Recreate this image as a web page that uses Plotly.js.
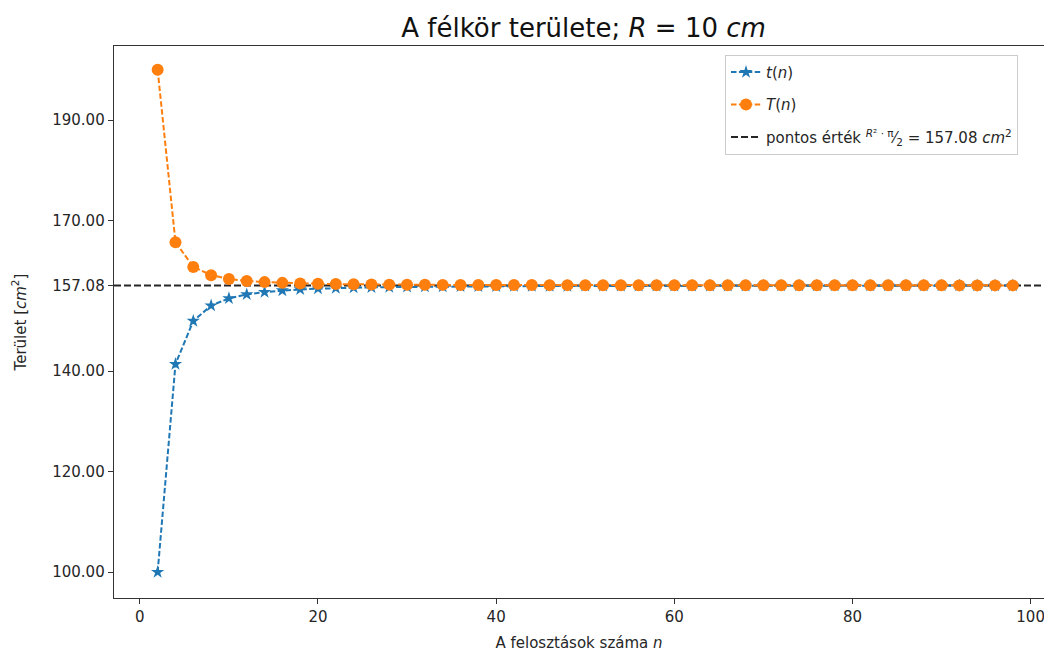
<!DOCTYPE html>
<html>
<head>
<meta charset="utf-8">
<script src="https://cdn.plot.ly/plotly-3.0.1.min.js"></script>
<style>html,body{margin:0;padding:0;background:#fff;}#chart{width:1044px;height:652px;}</style>
</head>
<body>
<div id="chart"></div>
<script>
// Number of subdivisions
const nValues = [2,4,6,8,10,12,14,16,18,20,22,24,26,28,30,32,34,36,38,40,42,44,46,48,50,
  52,54,56,58,60,62,64,66,68,70,72,74,76,78,80,82,84,86,88,90,92,94,96,98];
// inscribed approximation t(n)
const tValues = [100.00,141.42,150.00,153.07,154.51,155.29,155.76,156.07,156.28,156.43,156.55,156.63,156.70,156.75,156.79,
  156.83,156.86,156.88,156.90,156.92,156.93,156.95,156.96,156.97,156.98,156.98,156.99,157.00,157.00,157.01,157.01,157.02,157.02,157.02,
  157.03,157.03,157.03,157.04,157.04,157.04,157.04,157.04,157.05,157.05,157.05,157.05,157.05,157.05,157.06];
// circumscribed approximation T(n)
const TValues = [200.00,165.69,160.77,159.13,158.38,157.98,157.74,157.59,157.48,157.40,157.35,157.30,157.27,157.24,157.22,
  157.21,157.19,157.18,157.17,157.16,157.15,157.15,157.14,157.14,157.13,157.13,157.12,157.12,157.12,157.12,157.11,157.11,157.11,157.11,
  157.11,157.10,157.10,157.10,157.10,157.10,157.10,157.10,157.10,157.10,157.10,157.09,157.09,157.09,157.09];
const exactValue = 157.08;
const yTickVals = [100, 120, 140, 157.08, 170, 190];
const yTickText = ["100.00", "120.00", "140.00", "157.08", "170.00", "190.00"];
const xTickVals = [0, 20, 40, 60, 80, 100];

const FONT = "DejaVu Sans, sans-serif";
const traces = [
  {x: nValues, y: tValues, name: "<i>t</i>(<i>n</i>)", legendgroup: "a", mode: "lines+markers", type: "scatter",
   line: {color: "#1f77b4", width: 2, dash: "5.5px,2.4px"},
   marker: {symbol: "star", size: 10, color: "#1f77b4"}},
  {x: nValues, y: TValues, name: "<i>T</i>(<i>n</i>)", legendgroup: "b", mode: "lines+markers", type: "scatter",
   line: {color: "#ff7f0e", width: 2, dash: "5.5px,2.4px"},
   marker: {symbol: "circle", size: 12, color: "#ff7f0e"}}
];
const layout = {
  width: 1044, height: 652,
  margin: {l: 114, r: 0, t: 46, b: 54},
  paper_bgcolor: "#fff", plot_bgcolor: "#fff",
  font: {family: FONT, size: 15, color: "#262626"},
  showlegend: true,
  title: {text: "A félkör területe; <i>R</i> = 10 <i>cm</i>", font: {family: FONT, size: 26, color: "#111"},
          x: 0.559, xref: "container", xanchor: "center", y: 0.957, yref: "container", yanchor: "middle"},
  xaxis: {range: [-2.9, 101.5], tickvals: xTickVals, ticks: "outside", ticklen: 5, tickcolor: "#333",
          showgrid: false, zeroline: false, showline: true, linecolor: "#333", linewidth: 1.3, mirror: true,
          tickfont: {size: 15}, ticklabeloverflow: "allow",
          title: {text: "A felosztások száma <i>n</i>", font: {size: 15}, standoff: 14}},
  yaxis: {range: [94.85, 204.75], tickvals: yTickVals, ticktext: yTickText, ticks: "outside", ticklen: 5, tickcolor: "#333",
          showgrid: false, zeroline: false, showline: true, linecolor: "#333", linewidth: 1.3, mirror: true,
          tickfont: {size: 15},
          title: {text: "Terület [<i>cm</i><sup>2</sup>]", font: {size: 15}, standoff: 22}},
  legend: {x: 0.657, xanchor: "left", y: 0.984, yanchor: "top", bgcolor: "rgba(255,255,255,0.9)",
           bordercolor: "#ccc", borderwidth: 1, font: {size: 15, color: "#262626"}, tracegroupgap: 10},
  shapes: [{type: "line", xref: "paper", x0: 0, x1: 1, yref: "y", y0: exactValue, y1: exactValue,
            line: {color: "#262626", width: 2, dash: "7px,3px"}, layer: "below",
            showlegend: true, legendgroup: "c",
            name: "pontos érték <sup><i>R</i>² · π</sup>⁄<sub>2</sub> = 157.08 <i>cm</i><sup>2</sup>"}]
};
Plotly.newPlot("chart", traces, layout, {displayModeBar: false, staticPlot: true});
</script>
</body>
</html>
